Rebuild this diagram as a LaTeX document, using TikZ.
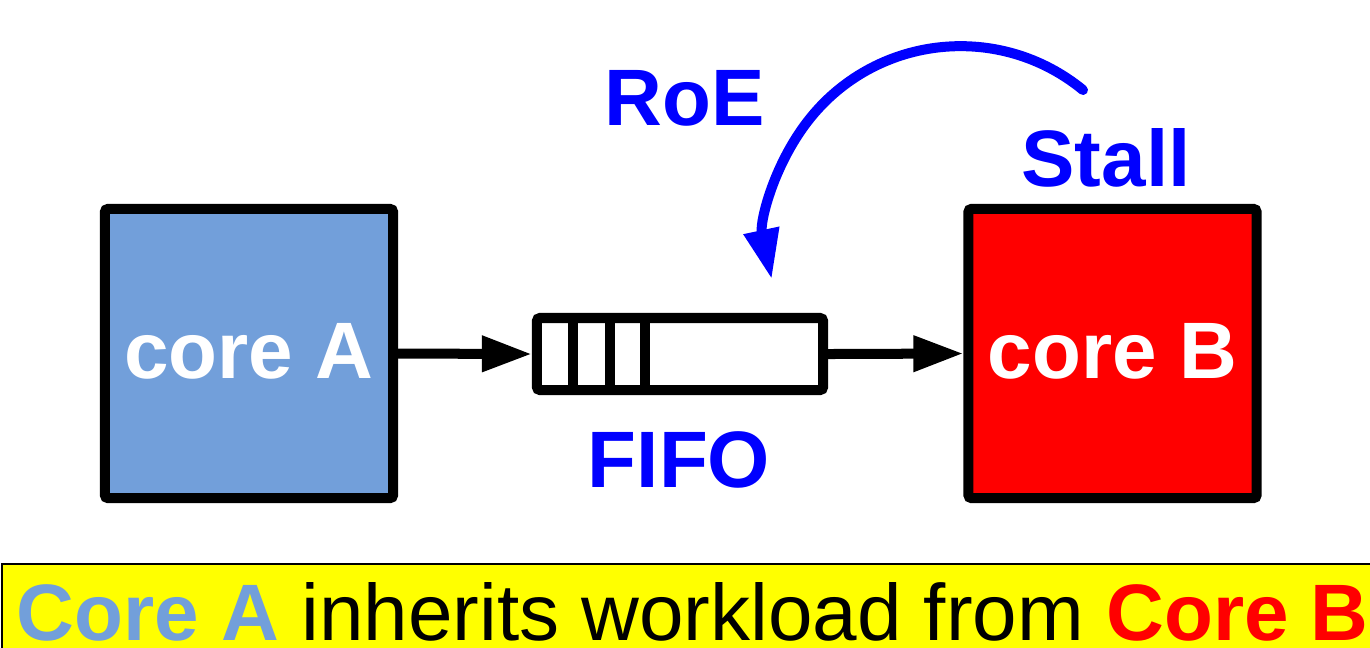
\documentclass[tikz,border=0pt]{standalone}
\usepackage{fontspec}
\setmainfont{Liberation Sans}
\usetikzlibrary{arrows.meta}
\definecolor{coreblue}{RGB}{114,159,218}
\definecolor{purered}{RGB}{255,0,0}
\definecolor{pureblue}{RGB}{0,0,255}
\definecolor{pureyellow}{RGB}{255,255,0}
\tikzset{
  corebox/.style={draw=black, line width=1mm, rounded corners=0.3mm, minimum width=2.88cm, minimum height=2.89cm, text=white, font=\fontsize{22.76}{27}\selectfont\bfseries, text height=0.57cm, text depth=0.08cm, inner sep=0pt},
  bluelabel/.style={text=pureblue, font=\fontsize{22.76}{27}\selectfont\bfseries, inner sep=0pt, anchor=base},
  flowarrow/.style={line width=1mm, -{Triangle[length=5mm,width=3.4mm]}},
}
\begin{document}
\begin{tikzpicture}[x=0.01cm,y=-0.01cm]
\useasboundingbox (0,0) rectangle (1370,647);
\clip (0,0) rectangle (1370,647);
% boxes
\node[corebox, fill=coreblue] (coreA) at (249,353.5) {core A};
\node[corebox, fill=purered] (coreB) at (1112.5,353.5) {core B};
\node[draw=black, line width=1mm, rounded corners=0.3mm, minimum width=2.86cm, minimum height=0.72cm, inner sep=0pt] (fifo) at (680,354) {};
\draw[line width=1mm] (573,318) -- (573,390);
\draw[line width=1mm] (610,318) -- (610,390);
\draw[line width=1mm] (645,318) -- (645,390);
% arrows
\draw[flowarrow] (coreA.east) -- (fifo.west);
\draw[flowarrow] (fifo.east) -- (coreB.west);
% labels
\node[bluelabel] (roe) at (685,125) {RoE};
\node[bluelabel] (stall) at (1106,186) {Stall};
\node[bluelabel] (fifolabel) at (679,487) {FIFO};
% stall arc
\coordinate (stallstart) at (1083,90);
\draw[pureblue, line width=1mm, line cap=round, -{Triangle[length=5mm,width=3.4mm]}] (stallstart) arc[start angle=-50.6, end angle=-192, radius=193];
% banner
\draw[fill=pureyellow, draw=black, line width=0.2mm] (2,564) rectangle (1380,660);
\node[anchor=base west, inner sep=0pt, font=\fontsize{22.76}{27}\selectfont] (banner) at (16,640) {\textcolor{coreblue}{\bfseries Core A} inherits workload from \textcolor{purered}{\bfseries Core B}};
\end{tikzpicture}
\end{document}
